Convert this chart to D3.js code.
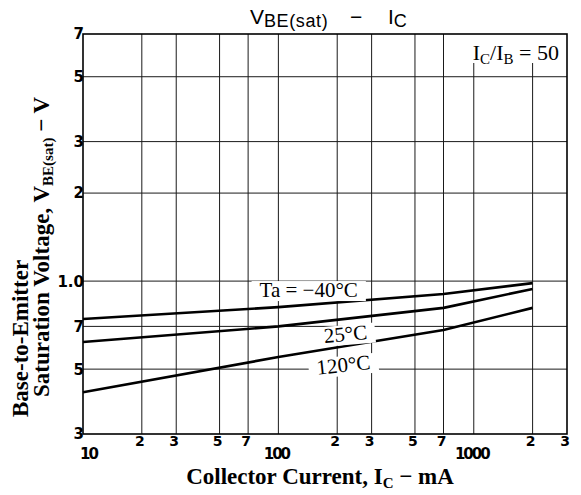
<!DOCTYPE html>
<html>
<head>
<meta charset="utf-8">
<script src="https://cdn.jsdelivr.net/npm/d3@7"></script>
<style>
  body { margin: 0; background: #fff; }
  svg { display: block; }
</style>
</head>
<body>
<div id="chart"></div>
<script>
// --- data ---
const xTicks = [10, 20, 30, 50, 70, 100, 200, 300, 500, 700, 1000, 2000, 3000];
const xTickLabels = ["10", "2", "3", "5", "7", "100", "2", "3", "5", "7", "1000", "2", "3"];
const yTicks = [0.3, 0.5, 0.7, 1, 2, 3, 5, 7];
const yTickLabels = ["3", "5", "7", "1.0", "2", "3", "5", "7"];

const current = [10, 100, 700, 2000];          // I_C, mA
const vMinus40 = [0.742, 0.815, 0.904, 0.984];  // Ta = -40°C
const v25 = [0.619, 0.70, 0.81, 0.94];          // 25°C
const v120 = [0.417, 0.55, 0.68, 0.81];         // 120°C

const series = [
  { name: "Ta = −40°C", values: vMinus40, lx: 143, ly: 0.882, rot: 0 },
  { name: "25°C", values: v25, lx: 222, ly: 0.624, rot: -5 },
  { name: "120°C", values: v120, lx: 217, ly: 0.489, rot: -6 }
];

const width = 581, height = 495;
const margin = { top: 34, right: 14, bottom: 61, left: 83 };

const svg = d3.select("#chart").append("svg")
  .attr("width", width)
  .attr("height", height);

const x = d3.scaleLog()
  .domain([10, 3000])
  .range([margin.left, width - margin.right]);

const y = d3.scaleLog()
  .domain([0.3, 7])
  .range([height - margin.bottom, margin.top]);

// grid
const grid = svg.append("g").attr("stroke", "#1a1a1a").attr("stroke-width", 1);
grid.selectAll(".vg")
  .data(xTicks.slice(1, -1))
  .join("line")
  .attr("x1", d => x(d)).attr("x2", d => x(d))
  .attr("y1", y(7)).attr("y2", y(0.3));
grid.selectAll(".hg")
  .data(yTicks.slice(1, -1))
  .join("line")
  .attr("x1", x(10)).attr("x2", x(3000))
  .attr("y1", d => y(d)).attr("y2", d => y(d));

// curves
const line = d3.line()
  .x(d => x(d[0]))
  .y(d => y(d[1]));

svg.append("g")
  .selectAll("path")
  .data(series)
  .join("path")
  .attr("d", s => line(current.map((c, i) => [c, s.values[i]])))
  .attr("fill", "none")
  .attr("stroke", "#000")
  .attr("stroke-width", 2.6)
  .attr("stroke-linejoin", "round");

// curve labels with white backing that breaks the grid
const labels = svg.append("g");
series.forEach(s => {
  const g = labels.append("g")
    .attr("transform", `translate(${x(s.lx)},${y(s.ly)}) rotate(${s.rot})`);
  const bg = g.append("rect").attr("fill", "#fff");
  const t = g.append("text")
    .attr("text-anchor", "middle")
    .attr("font-family", "Liberation Serif, serif")
    .attr("font-size", 21)
    .attr("fill", "#000")
    .text(s.name);
  const b = t.node().getBBox();
  bg.attr("x", b.x - 8).attr("y", b.y + 3)
    .attr("width", b.width + 16).attr("height", b.height - 4);
});

// I_C / I_B label box
const ratio = svg.append("g");
ratio.append("rect")
  .attr("x", x(1000) - 10).attr("y", y(7))
  .attr("width", x(3000) - x(1000) + 10).attr("height", 29)
  .attr("fill", "#fff");
const rt = ratio.append("text")
  .attr("x", x(3000) - 8).attr("y", 60)
  .attr("text-anchor", "end")
  .attr("font-family", "Liberation Serif, serif")
  .attr("font-size", 22);
rt.append("tspan").text("I");
rt.append("tspan").attr("font-size", 15).attr("dy", 4).text("C");
rt.append("tspan").attr("dy", -4).text("/I");
rt.append("tspan").attr("font-size", 15).attr("dy", 4).text("B");
rt.append("tspan").attr("dy", -4).text(" = 50");

// frame
svg.append("rect")
  .attr("x", x(10)).attr("y", y(7))
  .attr("width", x(3000) - x(10)).attr("height", y(0.3) - y(7))
  .attr("fill", "none").attr("stroke", "#000").attr("stroke-width", 1.6);

// y tick labels
svg.append("g")
  .selectAll("text")
  .data(yTicks)
  .join("text")
  .attr("x", x(10) + 1)
  .attr("y", d => y(d))
  .attr("dy", "0.36em")
  .attr("text-anchor", "end")
  .attr("font-family", "DejaVu Sans, sans-serif")
  .attr("font-weight", "bold")
  .attr("font-size", 15)
  .text((d, i) => yTickLabels[i]);

// x tick labels: decades drop to a lower row
svg.append("g")
  .selectAll("text")
  .data(xTicks)
  .join("text")
  .attr("x", (d, i) => (i === 0 ? x(d) - 3 : x(d) - 2))
  .attr("y", (d, i) => (xTickLabels[i].length > 1 ? 459 : 446))
  .attr("text-anchor", (d, i) => (i === 0 ? "start" : "middle"))
  .attr("font-family", "DejaVu Sans, sans-serif")
  .attr("font-weight", "bold")
  .attr("font-size", (d, i) => (xTickLabels[i].length > 1 ? 15 : 14))
  .attr("letter-spacing", (d, i) => (xTickLabels[i].length > 1 ? -2 : 0))
  .text((d, i) => xTickLabels[i]);

// title
const title = svg.append("text")
  .attr("y", 24)
  .attr("font-family", "Liberation Sans, sans-serif")
  .attr("font-size", 21);
title.append("tspan").attr("x", 250).text("V");
title.append("tspan").attr("font-size", 18).attr("dy", 3).attr("letter-spacing", 0.6).text("BE(sat)");
title.append("tspan").attr("x", 350).attr("dy", -3).text("−");
title.append("tspan").attr("x", 388).text("I");
title.append("tspan").attr("font-size", 18).attr("dy", 3).text("C");

// x-axis title
const xt = svg.append("text")
  .attr("x", 320).attr("y", 484)
  .attr("text-anchor", "middle")
  .attr("font-family", "Liberation Serif, serif")
  .attr("font-weight", "bold")
  .attr("font-size", 23);
xt.append("tspan").text("Collector Current, I");
xt.append("tspan").attr("font-size", 15).attr("dy", 4).text("C");
xt.append("tspan").attr("dy", -4).text(" − mA");

// y-axis title, two lines
svg.append("text")
  .attr("transform", "translate(28,417) rotate(-90)")
  .attr("font-family", "Liberation Serif, serif")
  .attr("font-weight", "bold")
  .attr("font-size", 23)
  .text("Base-to-Emitter");
const yt = svg.append("text")
  .attr("transform", "translate(49,397) rotate(-90)")
  .attr("font-family", "Liberation Serif, serif")
  .attr("font-weight", "bold")
  .attr("font-size", 23);
yt.append("tspan").text("Saturation Voltage, V");
yt.append("tspan").attr("font-size", 15).attr("dy", 4).text("BE(sat)");
yt.append("tspan").attr("dy", -4).text(" − V");
</script>
</body>
</html>
